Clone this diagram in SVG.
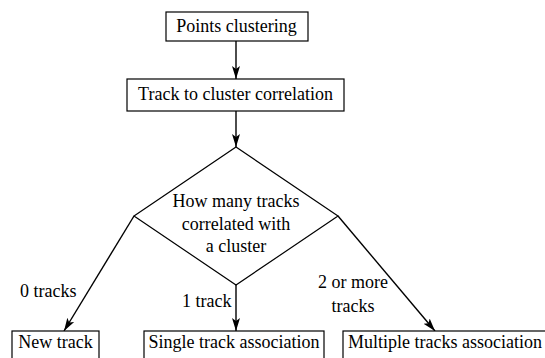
<svg xmlns="http://www.w3.org/2000/svg" width="545" height="358" viewBox="0 0 545 358">
<style>
  text { font-family: 'Times New Roman', Times, 'Liberation Serif', serif; font-size: 18px; fill: #000; }
  .c { text-anchor: middle; }
  .box { fill: #fff; stroke: #000; stroke-width: 1.2; }
  .edge { fill: none; stroke: #000; stroke-width: 1.4; }
</style>
<defs>
  <marker id="arr" markerUnits="userSpaceOnUse" markerWidth="14" markerHeight="10" refX="13" refY="5" orient="auto">
    <path d="M0,1 L13,5 L0,9 L3,5 Z" fill="#000"/>
  </marker>
</defs>
<rect width="545" height="358" fill="#fff"/>
<g id="connectors">
  <line class="edge" x1="236" y1="41" x2="236" y2="79" marker-end="url(#arr)"/>
  <line class="edge" x1="236" y1="111" x2="236" y2="147" marker-end="url(#arr)"/>
  <line class="edge" x1="134" y1="216" x2="64" y2="331" marker-end="url(#arr)"/>
  <line class="edge" x1="236" y1="285" x2="236" y2="331" marker-end="url(#arr)"/>
  <line class="edge" x1="338" y1="216" x2="435" y2="331" marker-end="url(#arr)"/>
  <text x="20" y="297">0 tracks</text>
  <text x="182" y="307">1 track</text>
  <text x="353" y="288" class="c">2 or more</text>
  <text x="353" y="312" class="c">tracks</text>
</g>
<g id="points-clustering">
  <rect class="box" x="166" y="12" width="142" height="29"/>
  <text x="236.5" y="32" class="c">Points clustering</text>
</g>
<g id="track-cluster-correlation">
  <rect class="box" x="127" y="79" width="217" height="32"/>
  <text x="235.5" y="100" class="c">Track to cluster correlation</text>
</g>
<g id="decision">
  <polygon points="236,147 338,216 236,285 134,216" fill="#fff" stroke="#000" stroke-width="1.2"/>
  <text x="236" y="207" class="c">How many tracks</text>
  <text x="236" y="230" class="c">correlated with</text>
  <text x="236" y="252" class="c">a cluster</text>
</g>
<g id="new-track">
  <rect class="box" x="12" y="331" width="87" height="34"/>
  <text x="55.5" y="348" class="c">New track</text>
</g>
<g id="single-track">
  <rect class="box" x="144" y="331" width="180" height="34"/>
  <text x="234" y="348" class="c">Single track association</text>
</g>
<g id="multiple-tracks">
  <rect class="box" x="343" y="331" width="220" height="34"/>
  <text x="348" y="348">Multiple tracks association</text>
</g>
</svg>
